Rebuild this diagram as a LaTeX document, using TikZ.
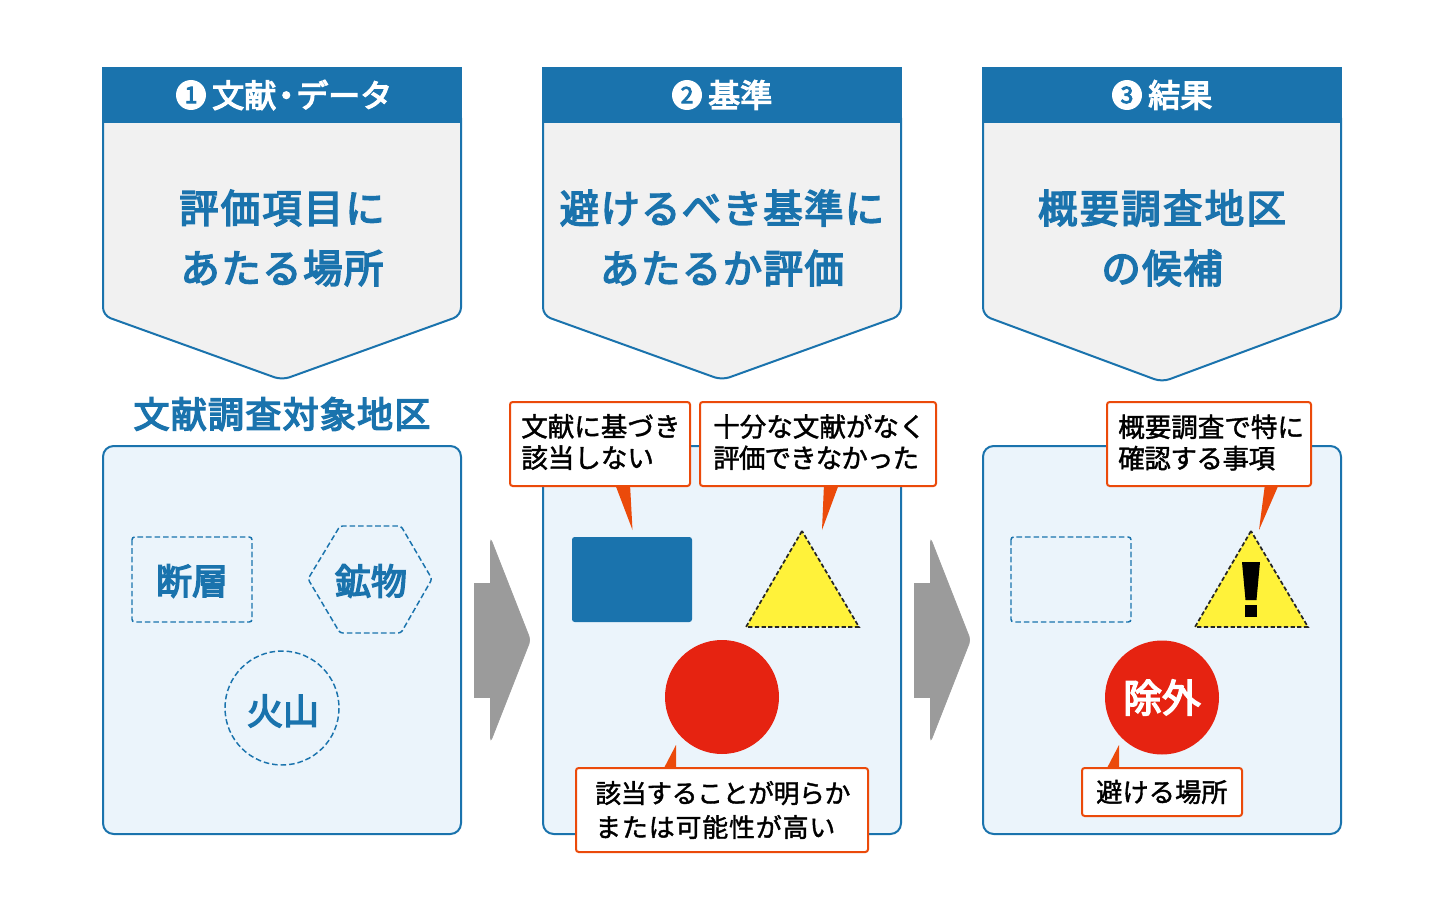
\documentclass[tikz,border=0pt]{standalone}
\usepackage{fontspec}
\usetikzlibrary{calc}
\newfontfamily\jpr[FakeBold=1.5]{Noto Sans CJK JP}
\newfontfamily\jpm[FakeBold=4]{Noto Sans CJK JP}
\newcommand{\lsp}[2]{{\addfontfeature{LetterSpace=#1}#2}}
\definecolor{mainblue}{HTML}{1A73AD}
\definecolor{panelfill}{HTML}{EBF4FB}
\definecolor{headfill}{HTML}{F1F1F1}
\definecolor{tagorange}{HTML}{EB4A0A}
\definecolor{sunred}{HTML}{E62311}
\definecolor{warnyellow}{HTML}{FFF23A}
\definecolor{arrowgray}{HTML}{9B9B9B}
\tikzset{
  penta/.style={draw=mainblue,fill=headfill,line width=1.5pt,rounded corners=6pt},
  band/.style={fill=mainblue,draw=none},
  panel/.style={draw=mainblue,fill=panelfill,line width=1.5pt,rounded corners=8pt},
  bandtext/.style={text=white,inner sep=0pt,font={\jpm\fontsize{24}{28}\selectfont}},
  numdot/.style={circle,fill=white,minimum size=22.5pt,inner sep=0pt,text=mainblue,font={\jpm\fontsize{17}{17}\selectfont}},
  headtext/.style={text=mainblue,align=center,inner sep=0pt,font={\jpm\fontsize{29.5}{45}\selectfont}},
  areatitle/.style={text=mainblue,inner sep=0pt,font={\jpm\addfontfeature{LetterSpace=3.5}\fontsize{27}{32}\selectfont}},
  kindtext/.style={text=mainblue,inner sep=0pt,font={\jpm\fontsize{27}{32}\selectfont}},
  dashblue/.style={draw=mainblue,line width=1.1pt,dash pattern=on 4.2pt off 2.2pt,fill=none},
  tagbox/.style={draw=tagorange,fill=white,line width=1.5pt,rounded corners=2pt,inner sep=0pt},
  tagtext/.style={anchor=west,align=left,text=black,inner sep=0pt,font={\jpr\fontsize{19.9}{23.5}\selectfont}},
  tail/.style={fill=tagorange,draw=none},
  warn/.style={fill=warnyellow,draw=black!85,line width=1.3pt,dash pattern=on 3.2pt off 1.8pt},
  redspot/.style={circle,fill=sunred,minimum size=85.5pt,inner sep=0pt},
  flow/.style={fill=arrowgray,draw=arrowgray,line width=.5pt,rounded corners=3pt},
}
\begin{document}
\begin{tikzpicture}[x=0.75pt,y=-0.75pt]
\useasboundingbox[fill=white] (0,0) rectangle (1440,906);

% header pentagons
\foreach \ox/\tip in {0/380,440/380,880/382}{
  \begin{scope}[xshift=\ox*0.75pt]
    \path[penta] (103,110) -- (103,315.5) -- (282,\tip) -- (461,315.5) -- (461,110) -- cycle;
    \path[band] (102,67.5) rectangle (462,123);
  \end{scope}
}
\node[numdot] (n1) at (191,95) {1};
\node[bandtext,anchor=west] (h1) at (212,95) {文献\kern-4.5pt・\kern-4.5ptデータ};
\node[numdot] (n2) at (687,95) {2};
\node[bandtext,anchor=west] (h2) at (708,95) {基準};
\node[numdot] (n3) at (1127,95) {3};
\node[bandtext,anchor=west] (h3) at (1148,95) {結果};
\node[headtext] (t1) at (282,238) {\lsp{5.5}{評価項目に}\\\lsp{4}{あたる場所}};
\node[headtext] (t2) at (722,238) {\lsp{3.5}{避けるべき基準に}\\\lsp{4}{あたるか評価}};
\node[headtext] (t3) at (1162,238) {\lsp{6}{概要調査地区}\\\lsp{4}{の候補}};

% panels
\path[panel] (103,446) rectangle (461,834);
\path[panel] (543,446) rectangle (901,834);
\path[panel] (983,446) rectangle (1341,834);
\node[areatitle] (area) at (282,414) {文献調査対象地区};

% panel 1
\path[dashblue,rounded corners=2pt] (132,537) rectangle (252,622);
\node[kindtext] (k1) at (192,581) {断層};
\path[dashblue,rounded corners=2pt] (308,579) -- (340,526) -- (401,526) -- (432,579) -- (401,633) -- (340,633) -- cycle;
\node[kindtext] (k2) at (371,581) {鉱物};
\draw[dashblue] (282,708) circle[radius=57];
\node[kindtext] (k3) at (283,711) {火山};

% flow arrows
\foreach \ox in {0,440}{
  \begin{scope}[xshift=\ox*0.75pt]
    \path[flow,rounded corners=0pt] (474,583) -- (494,583) -- (494,697) -- (474,697) -- cycle;
    \path[flow] (490.5,538) -- (530.5,640) -- (490.5,742) -- cycle;
  \end{scope}
}

% panel 2
\path[fill=mainblue,rounded corners=2pt] (572,537) rectangle (692,622);
\path[warn] (802,531) -- (746,627) -- (859,627) -- cycle;
\node[redspot] (s2) at (722,697) {};

% panel 3
\path[dashblue,rounded corners=2pt] (1011,537) rectangle (1131,622);
\path[warn] (1251,531) -- (1195,627) -- (1308,627) -- cycle;
\path[fill=black] (1242,562) -- (1260,562) -- (1256.5,600) -- (1245.5,600) -- cycle;
\path[fill=black] (1245,605) rectangle (1257,617);
\node[redspot,text=white,font={\jpm\fontsize{29}{32}\selectfont}] (s3) at (1162,697.5) {除外};

% callout tails
\path[tail] (615,484) -- (632.5,530) -- (630,484) -- cycle;
\path[tail] (824,484) -- (822,530) -- (839,484) -- cycle;
\path[tail] (1265,484) -- (1259,530) -- (1279,484) -- cycle;
\path[tail] (676,745) -- (663,770) -- (676,770) -- cycle;
\path[tail] (1119,745) -- (1106,770) -- (1119,770) -- cycle;

% callouts
\node[tagbox,minimum width=135pt,minimum height=63pt] (c1) at (600,444) {};
\node[tagtext] (c1t) at (521,442) {文献に基づき\\該当しない};
\node[tagbox,minimum width=177pt,minimum height=63pt] (c2) at (818,444) {};
\node[tagtext] (c2t) at (713,442) {十分な文献がなく\\\lsp{-3.5}{評価できなかった}};
\node[tagbox,minimum width=153pt,minimum height=63pt] (c3) at (1209,444) {};
\node[tagtext] (c3t) at (1118,442.5) {概要調査で特に\\\lsp{-1.8}{確認する事項}};
\node[tagbox,minimum width=219pt,minimum height=63pt] (c4) at (722,810) {};
\node[tagtext,font={\jpr\fontsize{19.4}{25.5}\selectfont}] (c4t) at (595,810) {\lsp{-1.5}{該当することが明らか}\\\lsp{3.5}{または可能性が高い}};
\node[tagbox,minimum width=120pt,minimum height=36pt] (c5) at (1162,792) {};
\node[tagtext,font={\jpr\fontsize{19.7}{24}\selectfont}] (c5t) at (1096,792) {避ける場所};
\end{tikzpicture}
\end{document}
